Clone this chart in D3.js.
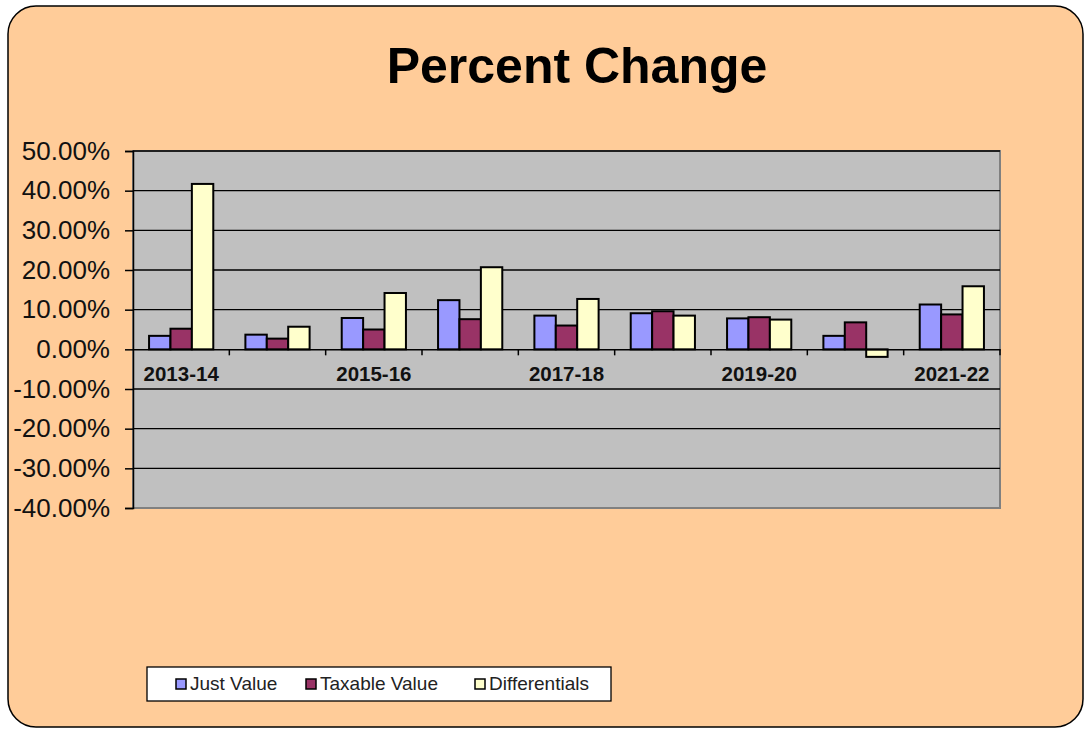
<!doctype html>
<html lang="en">
<head>
<meta charset="utf-8" />
<title>Percent Change</title>
<script src="https://cdn.jsdelivr.net/npm/d3@7"></script>
<style>
  body { margin: 0; background: #fff; }
  svg text { font-family: "Liberation Sans", Arial, sans-serif; }
</style>
</head>
<body>
<script>
// data (percent)
var categories = ["2013-14", "2014-15", "2015-16", "2016-17", "2017-18", "2018-19", "2019-20", "2020-21", "2021-22"];
var seriesNames = ["Just Value", "Taxable Value", "Differentials"];
var justValue    = [3.4, 3.7, 7.9, 12.4, 8.5, 9.1, 7.8, 3.4, 11.3];
var taxableValue = [5.2, 2.7, 5.0, 7.6, 6.0, 9.6, 8.1, 6.8, 8.8];
var differentials = [41.7, 5.7, 14.2, 20.7, 12.7, 8.5, 7.5, -1.9, 15.9];
var yTicks = [50, 40, 30, 20, 10, 0, -10, -20, -30, -40];
var shownLabels = ["2013-14", "2015-16", "2017-18", "2019-20", "2021-22"];

var colors = ["#9999FF", "#993366", "#FFFFCC"];
var seriesValues = [justValue, taxableValue, differentials];

var w = 1085, h = 730;
var plot = {left: 133, right: 1000, top: 151, bottom: 508};

var svg = d3.select("body").append("svg")
  .attr("width", w)
  .attr("height", h);

// chart frame
svg.append("rect")
  .attr("x", 8).attr("y", 6)
  .attr("width", 1075).attr("height", 721)
  .attr("rx", 28).attr("ry", 28)
  .attr("fill", "#FFCC99")
  .attr("stroke", "#000")
  .attr("stroke-width", 1.5);

svg.append("text")
  .attr("x", 577).attr("y", 83)
  .attr("text-anchor", "middle")
  .attr("font-size", "50px")
  .attr("font-weight", "bold")
  .attr("fill", "#000")
  .text("Percent Change");

var y = d3.scaleLinear().domain([-40, 50]).range([plot.bottom, plot.top]);
var x0 = d3.scaleBand().domain(categories).range([plot.left, plot.right]).padding(0);
var x1 = d3.scaleBand().domain(seriesNames).range([0, x0.bandwidth()]).paddingInner(0).paddingOuter(0.75);

// plot area
svg.append("rect")
  .attr("x", plot.left).attr("y", plot.top)
  .attr("width", plot.right - plot.left)
  .attr("height", plot.bottom - plot.top)
  .attr("fill", "#C0C0C0")
  .attr("stroke", "#808080")
  .attr("stroke-width", 2);

// gridlines
svg.append("g").selectAll("line")
  .data(yTicks.filter(function(t) { return t != -40 && t != 0; }))
  .enter().append("line")
  .attr("x1", plot.left).attr("x2", plot.right)
  .attr("y1", function(d) { return y(d); })
  .attr("y2", function(d) { return y(d); })
  .attr("stroke", "#000")
  .attr("stroke-width", 1.3);

// y axis
var fmt = d3.formatLocale({decimal: ".", thousands: ",", grouping: [3], currency: ["$", ""], minus: "-"}).format(".2f");
var yAxis = d3.axisLeft(y)
  .tickValues(yTicks)
  .tickSize(8)
  .tickPadding(15)
  .tickFormat(function(d) { return fmt(d) + "%"; });

var yg = svg.append("g")
  .attr("transform", "translate(" + plot.left + ",0)")
  .call(yAxis);
yg.select(".domain").attr("stroke", "#000").attr("stroke-width", 1.5);
yg.selectAll(".tick line").attr("stroke", "#000").attr("stroke-width", 1.5);
yg.selectAll(".tick text")
  .attr("font-size", "26px")
  .attr("fill", "#111")
  .attr("font-family", "Liberation Sans, Arial, sans-serif");

// bars
var groups = svg.append("g").selectAll("g")
  .data(categories)
  .enter().append("g")
  .attr("transform", function(d) { return "translate(" + x0(d) + ",0)"; });

groups.selectAll("rect")
  .data(function(d, i) {
    return seriesNames.map(function(s, k) { return {name: s, value: seriesValues[k][i], k: k}; });
  })
  .enter().append("rect")
  .attr("x", function(d) { return x1(d.name); })
  .attr("width", x1.bandwidth())
  .attr("y", function(d) { return y(Math.max(0, d.value)); })
  .attr("height", function(d) { return Math.abs(y(d.value) - y(0)); })
  .attr("fill", function(d) { return colors[d.k]; })
  .attr("stroke", "#000")
  .attr("stroke-width", 2);

// category axis at zero
var xAxis = d3.axisBottom(x0)
  .tickSize(0)
  .tickPadding(17)
  .tickFormat(function(d) { return shownLabels.indexOf(d) >= 0 ? d : ""; });
var xg = svg.append("g")
  .attr("transform", "translate(0," + y(0) + ")")
  .call(xAxis);
xg.select(".domain").attr("stroke", "#000").attr("stroke-width", 1.5);
xg.selectAll(".tick text")
  .attr("font-size", "20.5px")
  .attr("font-weight", "bold")
  .attr("fill", "#111")
  .attr("font-family", "Liberation Sans, Arial, sans-serif");

// tick marks between categories
var bounds = categories.slice(1).map(function(c) { return x0(c); }).concat([plot.right]);
xg.selectAll("line.sep")
  .data(bounds)
  .enter().append("line")
  .attr("class", "sep")
  .attr("x1", function(d) { return d; }).attr("x2", function(d) { return d; })
  .attr("y1", 0).attr("y2", 6)
  .attr("stroke", "#000")
  .attr("stroke-width", 1.5);

// legend
var legend = svg.append("g");
legend.append("rect")
  .attr("x", 147).attr("y", 667)
  .attr("width", 464).attr("height", 34)
  .attr("fill", "#fff")
  .attr("stroke", "#000")
  .attr("stroke-width", 1.3);

var legendX = [176, 306, 475];
var items = legend.selectAll("g.item")
  .data(seriesNames)
  .enter().append("g")
  .attr("class", "item")
  .attr("transform", function(d, i) { return "translate(" + legendX[i] + ",679)"; });
items.append("rect")
  .attr("width", 10).attr("height", 10)
  .attr("fill", function(d, i) { return colors[i]; })
  .attr("stroke", "#000")
  .attr("stroke-width", 1.5);
items.append("text")
  .attr("x", 14).attr("y", 11)
  .attr("font-size", "19px")
  .attr("fill", "#222")
  .text(function(d) { return d; });
</script>
</body>
</html>
